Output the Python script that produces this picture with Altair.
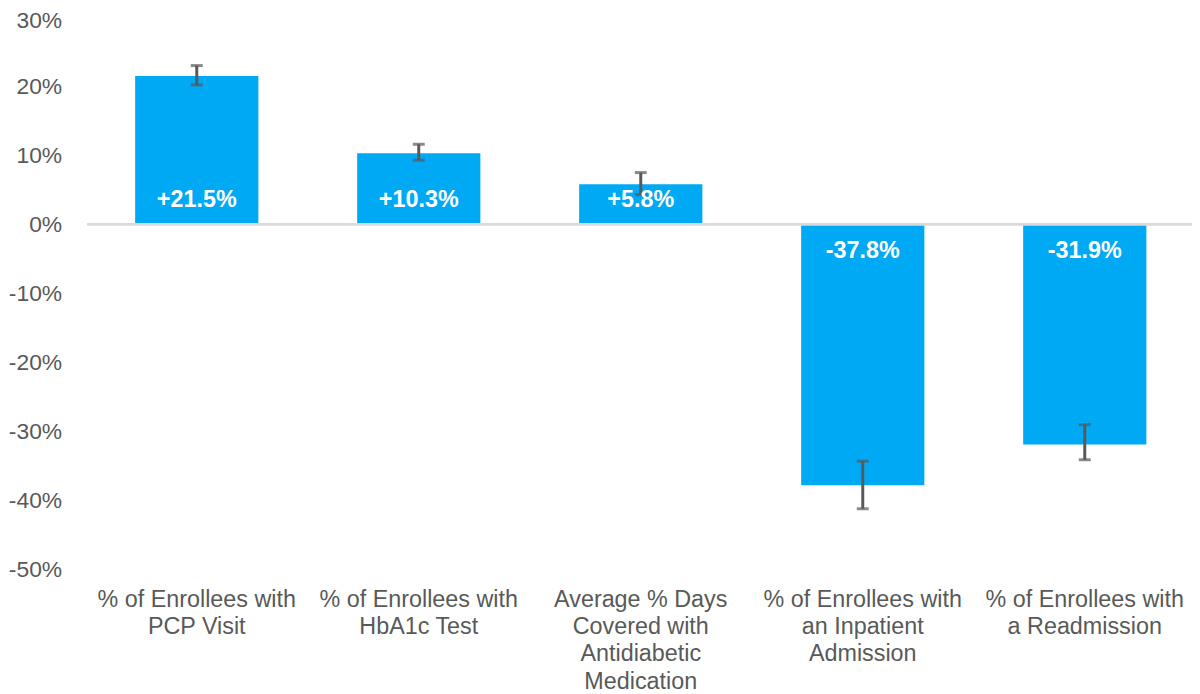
import altair as alt
import pandas as pd

categories = [
    "% of Enrollees with PCP Visit",
    "% of Enrollees with HbA1c Test",
    "Average % Days Covered with Antidiabetic Medication",
    "% of Enrollees with an Inpatient Admission",
    "% of Enrollees with a Readmission",
]
label_lines = [
    ["% of Enrollees with", "PCP Visit"],
    ["% of Enrollees with", "HbA1c Test"],
    ["Average % Days", "Covered with", "Antidiabetic", "Medication"],
    ["% of Enrollees with", "an Inpatient", "Admission"],
    ["% of Enrollees with", "a Readmission"],
]
values = [21.5, 10.3, 5.8, -37.8, -31.9]
err_low = [20.2, 9.3, 4.3, -41.2, -34.1]
err_high = [23.0, 11.6, 7.5, -34.3, -29.0]
value_labels = ["+21.5%", "+10.3%", "+5.8%", "-37.8%", "-31.9%"]

df = pd.DataFrame({
    "cat": categories,
    "value": values,
    "lo": err_low,
    "hi": err_high,
    "label": value_labels,
})

mapping = "{" + ", ".join(
    '"%s": [%s]' % (c, ", ".join('"%s"' % l for l in lines))
    for c, lines in zip(categories, label_lines)
) + "}"

FONT = "Liberation Sans"
GRAY = "#595959"
BLUE = "#00A9F4"

x_scale = alt.Scale(paddingInner=0.445, paddingOuter=0.2102, align=0.511)
x_enc = alt.X(
    "cat:N",
    sort=categories,
    scale=x_scale,
    axis=alt.Axis(
        title=None,
        labelAngle=0,
        ticks=False,
        domain=False,
        labelPadding=18,
        labelLimit=0,
        labelExpr=mapping + "[datum.label]",
        labelFontSize=23.5,
        labelColor=GRAY,
        labelFont=FONT,
        labelLineHeight=27.5,
        labelBaseline="top",
    ),
)
y_scale = alt.Scale(domain=[-50, 30], nice=False, zero=False)
y_enc = alt.Y(
    "value:Q",
    scale=y_scale,
    axis=alt.Axis(
        title=None,
        values=[30, 20, 10, 0, -10, -20, -30, -40, -50],
        labelExpr="datum.value + '%'",
        ticks=False,
        domain=False,
        grid=False,
        labelPadding=26,
        labelFontSize=23,
        labelColor=GRAY,
        labelFont=FONT,
        labelOffset={"condition": {"test": "datum.value == 30", "value": 3}, "value": 0},
    ),
)

base = alt.Chart(df)

bars = base.mark_bar(color=BLUE).encode(x=x_enc, y=y_enc)

zero = alt.Chart(df).mark_rule(color="#D9D9D9", strokeWidth=2).encode(y=alt.datum(0, scale=y_scale))

xc = alt.X("cat:N", sort=categories)

err_rule = base.mark_rule(color=GRAY, strokeWidth=3).encode(
    x=xc, y=alt.Y("lo:Q", scale=y_scale), y2="hi:Q"
)
cap_lo = base.mark_tick(color=GRAY, size=12, thickness=3, orient="horizontal").encode(
    x=xc, y=alt.Y("lo:Q", scale=y_scale)
)
cap_hi = base.mark_tick(color=GRAY, size=12, thickness=3, orient="horizontal").encode(
    x=xc, y=alt.Y("hi:Q", scale=y_scale)
)

text_pos = base.transform_filter("datum.value >= 0").mark_text(
    color="white", fontWeight="bold", fontSize=23.5, font=FONT, baseline="middle", dy=-24
).encode(x=xc, y=alt.datum(0, scale=y_scale), text="label:N")
text_neg = base.transform_filter("datum.value < 0").mark_text(
    color="white", fontWeight="bold", fontSize=23.5, font=FONT, baseline="middle", dy=27
).encode(x=xc, y=alt.datum(0, scale=y_scale), text="label:N")

chart = alt.layer(bars, zero, err_rule, cap_lo, cap_hi, text_pos, text_neg).properties(
    width=1112,
    height=556,
    autosize=alt.AutoSizeParams(type="none"),
    padding={"left": 80, "top": 7, "right": 0, "bottom": 122},
).configure_view(stroke=None)

chart.save("out.html", embed_options={"renderer": "svg", "actions": False})
